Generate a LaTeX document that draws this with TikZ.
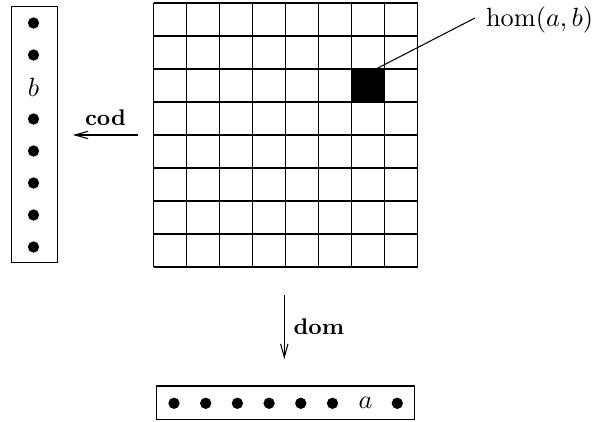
\documentclass[tikz,border=0pt]{standalone}
\usetikzlibrary{arrows.meta}
\begin{document}
\begin{tikzpicture}[x=0.38pt,y=-0.38pt,
  dotnode/.style={circle,fill=black,inner sep=0pt,minimum size=4.3pt},
  boxnode/.style={draw,inner sep=0pt},
  txt/.style={font=\fontsize{10.1pt}{12pt}\selectfont},
  lbl/.style={font=\fontsize{8.6pt}{10pt}\selectfont\bfseries},
  arr/.style={-{Straight Barb[length=5pt,width=2.8pt]}}]
\useasboundingbox (0,0) rectangle (597,422);
% grid
\foreach \i in {0,...,8} {
  \draw (153.7+33*\i,3) -- (153.7+33*\i,267);
  \draw (153.7,3+33*\i) -- (417.7,3+33*\i);
}
\node[fill=black,inner sep=0pt,minimum size=12.54pt,anchor=north west] (cell) at (351.7,69) {};
\coordinate (hs) at (376,69);
\node[txt,anchor=east,inner sep=0.5pt] (hom) at (595,20) {$\hom(a,b)$};
\coordinate (he) at (475,18);
\draw (hs) -- (he);
% left box
\node[boxnode,minimum width=17.5pt,minimum height=97.3pt] (L) at (34.2,134.7) {};
\foreach \y [count=\k] in {23,55,119,151,183,215,247} {
  \node[dotnode] (l\k) at (33.5,\y) {};
}
\node[txt] (lb) at (33.5,87) {$b$};
% bottom box
\node[boxnode,minimum width=97.9pt,minimum height=12.9pt] (D) at (285.5,403) {};
\foreach \x [count=\k] in {174,205.7,237.4,269.1,300.8,332.5,397.3} {
  \node[dotnode] (d\k) at (\x,403.3) {};
}
\node[txt] (da) at (365.7,403.3) {$a$};
% arrows
\coordinate (c1) at (138,135);
\coordinate (c2) at (73,135);
\draw[arr] (c1) -- (c2) node[midway,above,lbl] {cod};
\coordinate (m1) at (284.3,295);
\coordinate (m2) at (284.3,359);
\draw[arr] (m1) -- (m2) node[midway,right,lbl] {dom};
\end{tikzpicture}
\end{document}
